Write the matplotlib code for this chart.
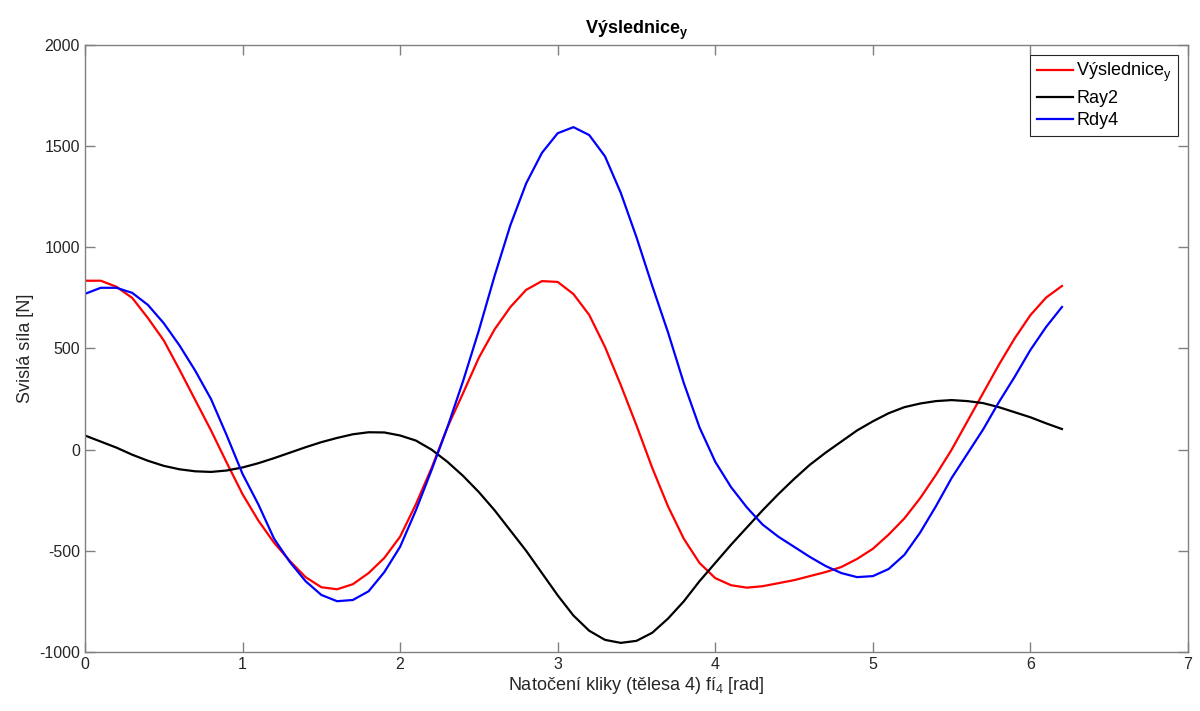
import numpy as np
import matplotlib
matplotlib.use('Agg')
from matplotlib import pyplot as plt

# crank angle, step 0.1 rad
fi4 = np.round(np.arange(0, 6.25, 0.1), 1)

vysl_y = [835, 835, 805, 750, 650, 540, 395, 245, 95, -65,
          -220, -350, -460, -550, -630, -680, -690, -665, -610, -535,
          -430, -270, -90, 110, 280, 455, 595, 705, 790, 833,
          829, 769, 666, 508, 320, 120, -90, -280, -440, -560,
          -635, -670, -682, -675, -660, -645, -625, -605, -580, -540,
          -490, -420, -340, -240, -125, 0, 140, 280, 420, 550,
          665, 752, 809]

ray2 = [70, 40, 10, -25, -55, -80, -97, -107, -110, -103,
        -88, -67, -42, -15, 12, 37, 58, 76, 86, 85,
        70, 45, 0, -60, -130, -210, -300, -400, -500, -610,
        -720, -820, -895, -940, -955, -945, -905, -835, -750, -650,
        -560, -470, -385, -300, -220, -145, -75, -15, 40, 95,
        140, 180, 210, 228, 240, 245, 240, 230, 210, 185,
        160, 130, 102]

rdy4 = [770, 800, 800, 775, 715, 625, 515, 390, 250, 70,
        -120, -270, -440, -555, -650, -718, -749, -743, -700, -605,
        -480, -300, -100, 110, 340, 590, 860, 1110, 1316, 1467,
        1564, 1594, 1555, 1450, 1270, 1050, 810, 580, 330, 110,
        -60, -185, -285, -370, -430, -480, -530, -575, -610, -630,
        -625, -590, -520, -410, -280, -140, -20, 100, 235, 360,
        493, 607, 705]

plt.rcParams['font.family'] = ['Liberation Sans', 'DejaVu Sans']
plt.rcParams['mathtext.fontset'] = 'custom'
plt.rcParams['mathtext.rm'] = 'Liberation Sans'
plt.rcParams['mathtext.it'] = 'Liberation Sans'
plt.rcParams['mathtext.bf'] = 'Liberation Sans:bold'
plt.rcParams['axes.unicode_minus'] = False

fig = plt.figure(figsize=(12, 7.11), dpi=100)
ax = fig.add_axes([0.0708, 0.083, 0.9192, 0.8537])

ax.plot(fi4, vysl_y, color='#ff0000', lw=1.6, label='Výslednice$_\\mathrm{y}$')
ax.plot(fi4, ray2, color='black', lw=1.6, label='Ray2')
ax.plot(fi4, rdy4, color='#0000ff', lw=1.6, label='Rdy4')

ax.set_xlim(0, 7)
ax.set_ylim(-1000, 2000)
ax.set_xticks(range(0, 8))
ax.set_yticks(range(-1000, 2001, 500))

axis_col = '#262626'
for s in ax.spines.values():
    s.set_color('#808080')
    s.set_linewidth(1.0)
ax.tick_params(direction='in', length=7, width=1.0, color='#808080',
               labelsize=11.5, labelcolor=axis_col, top=True, right=True)

ax.set_xlabel('Natočení kliky (tělesa 4) fí$_4$ [rad]', fontsize=13, color=axis_col, labelpad=2)
ax.set_ylabel('Svislá síla [N]', fontsize=13, color=axis_col, labelpad=4)
ax.set_title('Výslednice$_\\mathbf{y}$', fontsize=13, fontweight='bold', pad=8)

leg = ax.legend(loc='upper right', fontsize=13, fancybox=False, framealpha=1,
                edgecolor='#262626', handlelength=2.0, handletextpad=0.2,
                borderpad=0.35, labelspacing=0.3, borderaxespad=0.55)
leg.get_frame().set_linewidth(0.8)

fig.savefig('out.png', dpi=100)
